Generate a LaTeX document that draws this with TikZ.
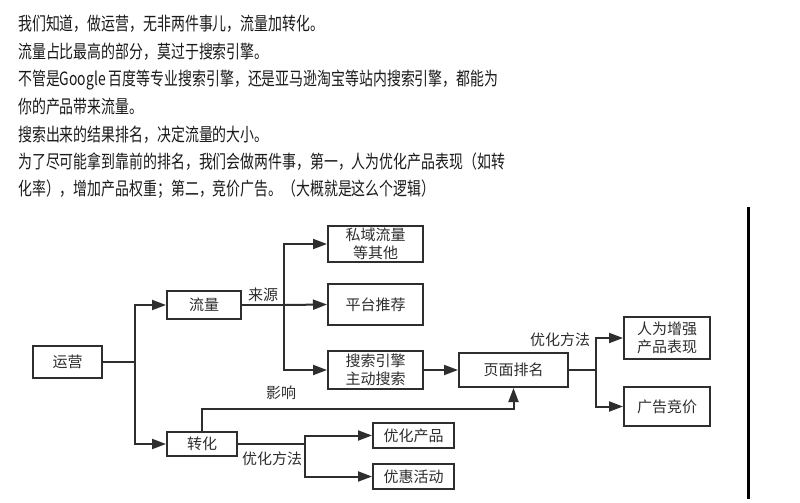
\documentclass[tikz,border=0pt]{standalone}
\usepackage{fontspec}
\newfontfamily\cjk{Noto Sans CJK SC}
\newfontfamily\cjknarrow[FakeStretch=0.76]{Noto Sans CJK SC}
\usetikzlibrary{arrows.meta}
\definecolor{ink}{HTML}{2E2E2E}
\definecolor{txt}{HTML}{1A1A1A}
\tikzset{
  boxnode/.style={draw=ink, line width=2pt, inner sep=0pt, align=center,
    font=\cjk\fontsize{15pt}{17.5pt}\selectfont, text=ink},
  para/.style={anchor=west, inner sep=0pt, font=\cjknarrow\fontsize{18.3pt}{20pt}\selectfont, text=txt},
  lbl/.style={inner sep=0pt, font=\cjk\fontsize{15pt}{18pt}\selectfont, text=ink},
  conn/.style={draw=ink, line width=2pt},
  arr/.style={conn, -{Triangle[length=14pt,width=10pt]}}
}
\begin{document}
\begin{tikzpicture}[x=1pt,y=-1pt]
\useasboundingbox[fill=white] (0,0) rectangle (800,503);
% top paragraph
\node[para] (p1) at (18,24) {我们知道，做运营，无非两件事儿，流量加转化。};
\node[para] (p2) at (18,52) {流量占比最高的部分，莫过于搜索引擎。};
\node[para] (p3) at (18,80) {不管是Google 百度等专业搜索引擎，还是亚马逊淘宝等站内搜索引擎，都能为};
\node[para] (p4) at (18,107) {你的产品带来流量。};
\node[para] (p5) at (18,135) {搜索出来的结果排名，决定流量的大小。};
\node[para] (p6) at (18,162) {为了尽可能拿到靠前的排名，我们会做两件事，第一，人为优化产品表现（如转};
\node[para] (p7) at (18,189) {化率），增加产品权重；第二，竞价广告。（大概就是这么个逻辑）};
% boxes
\node[boxnode, minimum width=69pt, minimum height=32pt] (yy) at (67.5,362) {运营};
\node[boxnode, minimum width=74pt, minimum height=28pt] (ll) at (204,305) {流量};
\node[boxnode, minimum width=70pt, minimum height=24pt] (zh) at (202,444) {转化};
\node[boxnode, minimum width=95pt, minimum height=36pt] (sy) at (375.5,244) {私域流量\\等其他};
\node[boxnode, minimum width=95pt, minimum height=41pt] (pt) at (375.5,304.5) {平台推荐};
\node[boxnode, minimum width=95pt, minimum height=38pt] (ss) at (375.5,370) {搜索引擎\\主动搜索};
\node[boxnode, minimum width=109pt, minimum height=34pt] (ym) at (513.5,370) {页面排名};
\node[boxnode, minimum width=86pt, minimum height=42pt] (rw) at (667,338) {人为增强\\产品表现};
\node[boxnode, minimum width=86pt, minimum height=39pt] (gg) at (667,406.5) {广告竞价};
\node[boxnode, minimum width=81pt, minimum height=25pt] (yh) at (413.5,435.5) {优化产品};
\node[boxnode, minimum width=81pt, minimum height=25pt] (yd) at (413.5,476.5) {优惠活动};
% junctions
\coordinate (j1) at (135,362);
\coordinate (j2) at (284,305);
\coordinate (j3) at (305,444);
\coordinate (j4) at (596,370);
% connectors
\draw[conn] (yy.east) -- (j1);
\draw[arr] (j1) |- (ll.west);
\draw[arr] (j1) |- (zh.west);
\draw[conn] (ll.east) -- (j2);
\draw[arr] (j2) |- (sy.west);
\draw[arr] (j2) -- (pt.west);
\draw[arr] (j2) |- (ss.west);
\draw[arr] (ss.east) -- (ym.west);
\draw[arr] (zh.north) -- ++(0,-22) -| (ym.south);
\draw[conn] (zh.east) -- (j3);
\draw[arr] (j3) |- (yh.west);
\draw[arr] (j3) |- (yd.west);
\draw[conn] (ym.east) -- (j4);
\draw[arr] (j4) |- (rw.west);
\draw[arr] (j4) |- (gg.west);
% labels
\node[lbl] (l1) at (263,295) {来源};
\node[lbl] (l2) at (281,393) {影响};
\node[lbl] (l3) at (272,459) {优化方法};
\node[lbl] (l4) at (560,340) {优化方法};
% right vertical rule
\draw[line width=3pt, black] (748,207) -- (748,499);
\end{tikzpicture}
\end{document}
